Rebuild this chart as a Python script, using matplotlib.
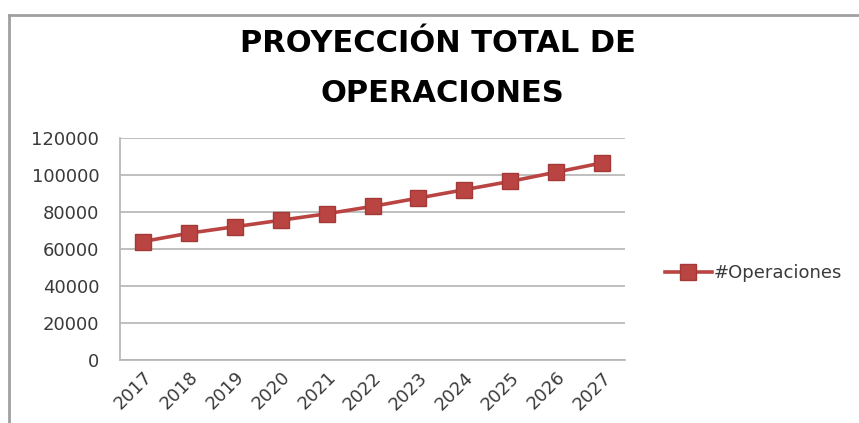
import matplotlib.pyplot as plt
from matplotlib.lines import Line2D

# proyección anual de operaciones
years = ['2017', '2018', '2019', '2020', '2021', '2022', '2023', '2024', '2025', '2026', '2027']
operaciones = [64000, 68500, 72000, 75500, 79000, 83000, 87500, 92000, 96500, 101500, 106500]
y_ticks = [0, 20000, 40000, 60000, 80000, 100000, 120000]

red = '#BA4441'
edge = '#A33A37'
grid_gray = '#b4b4b4'
text_gray = '#3a3a3a'

fig = plt.figure(figsize=(8.59, 4.23), dpi=100)
ax = fig.add_axes([0.1397, 0.149, 0.588, 0.525])

x = list(range(len(years)))
ax.plot(x, operaciones, color=red, lw=2.6, marker='s', markersize=11,
        markerfacecolor=red, markeredgecolor=edge, label='#Operaciones')

ax.set_xlim(-0.5, len(years) - 0.5)
ax.set_ylim(0, 120000)
ax.set_yticks(y_ticks)
ax.set_yticklabels([str(v) for v in y_ticks])
ax.set_xticks(x)
ax.set_xticklabels(years, rotation=45, ha='right', rotation_mode='anchor')

ax.yaxis.grid(True, color=grid_gray, lw=1.2)
ax.set_axisbelow(True)
for side in ['top', 'right']:
    ax.spines[side].set_visible(False)
for side in ['left', 'bottom']:
    ax.spines[side].set_color(grid_gray)
    ax.spines[side].set_linewidth(1.2)
ax.tick_params(axis='both', colors=grid_gray, labelcolor=text_gray, labelsize=13, length=0)
ax.tick_params(axis='y', pad=15)
ax.tick_params(axis='x', pad=6)

fig.legend(handles=[Line2D([0], [0], color=red, lw=2.6, marker='s', markersize=11,
                           markerfacecolor=red, markeredgecolor=edge)],
           labels=['#Operaciones'], loc='center left', bbox_to_anchor=(0.755, 0.355),
           frameon=False, fontsize=13, handlelength=2.6, handletextpad=0.1,
           labelcolor=text_gray)

# título en dos líneas
fig.text(0.51, 0.877, 'PROYECCIÓN TOTAL DE', ha='center', va='baseline',
         fontsize=22, fontweight='bold', color='black')
fig.text(0.515, 0.759, 'OPERACIONES', ha='center', va='baseline',
         fontsize=22, fontweight='bold', color='black')

# borde del área del gráfico
fig.add_artist(Line2D([0.01, 1.0], [1 - 15 / 423, 1 - 15 / 423], color='#a0a0a0', lw=2))
fig.add_artist(Line2D([0.01, 0.01], [0.0, 1 - 15 / 423], color='#a0a0a0', lw=2))

fig.savefig('out.png', dpi=100)
